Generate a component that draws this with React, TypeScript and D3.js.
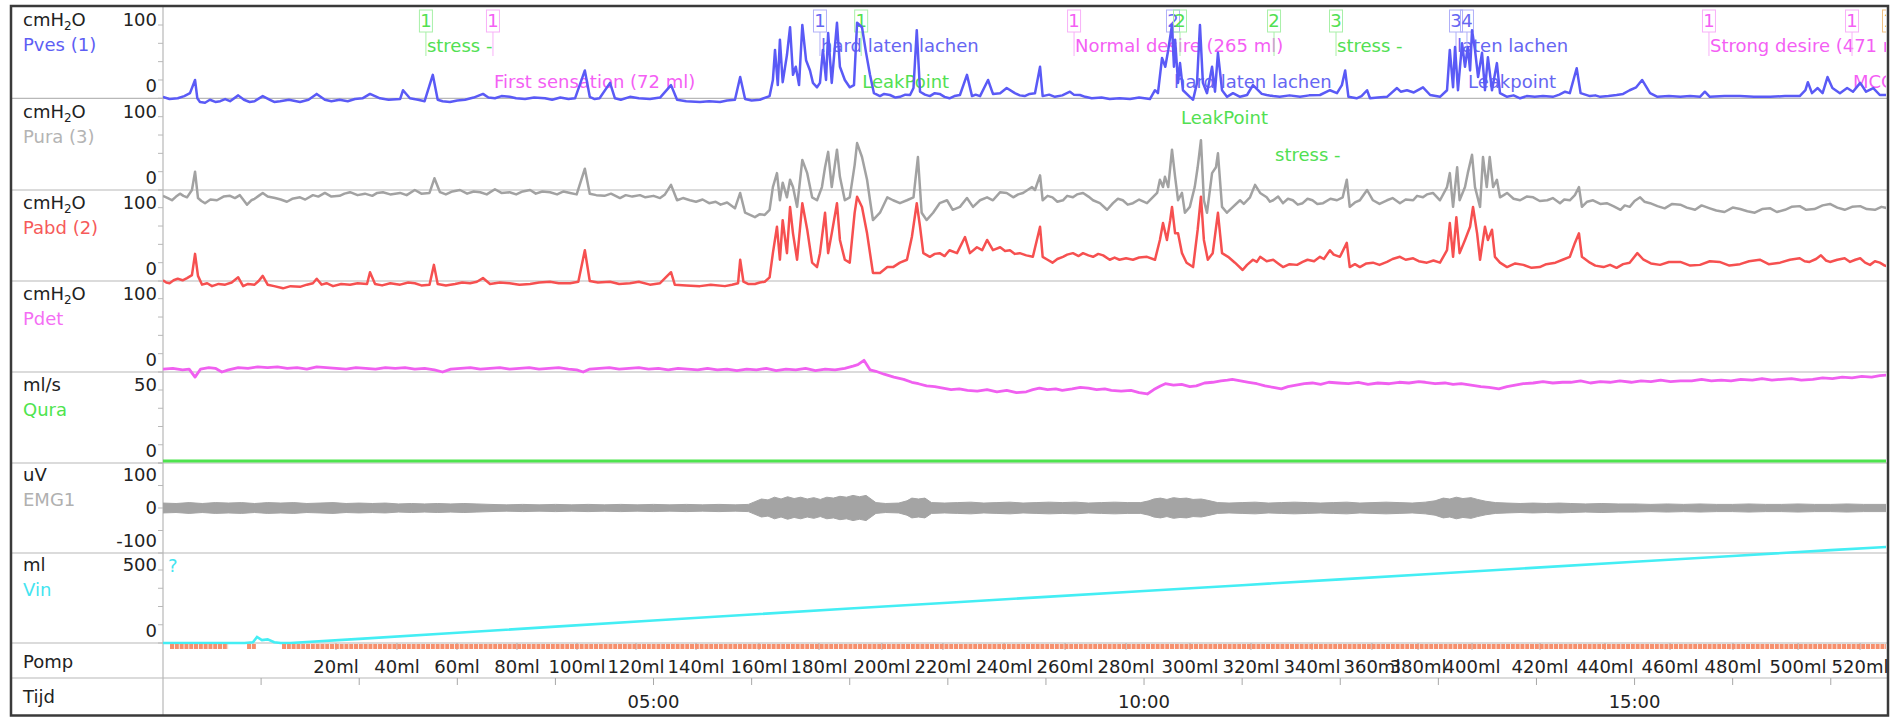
import React from 'react';
import * as d3 from 'd3';

type P = [number, number];

// time in seconds, value in channel units
const pvesData: P[] = [
  [0,2],[4,-1],[9,0],[13,3],[16.5,7],[19.6,25],[21,0],[22.6,-5],[25.7,-6],[28.7,-2],[32,-5],[35,-4],[38,-1],[41,-4],[46,4],[49.5,-2],[53,-5],[56,-4],[61,3],[65.4,-2],[68,-5],[71.6,-4],[77,-2],[83.8,-5],[89,-2],[94,6],[99,-2],[103,-4],[108,-2],[113,-4],[117.4,-1],[122,0],[126.6,6],[132.7,0],[138,-2],[145,-1],[146.8,11],[151,0],[156,-2],[160,-4],[165,32],[168,-2],[171,-4],[175.5,-5],[180,-3],[184.7,-2],[190,1],[195.7,6],[199,1],[203,0],[207,3],[212,2],[216,0],[221.4,-1],[227,1],[233.6,0],[238,-2],[243,1],[248,-1],[252,0],[258,38],[261,2],[264,-1],[267,0],[273.4,21],[276.4,0],[280,-2],[285.6,2],[291,0],[297.8,-1],[304,1],[310.7,18],[314.4,-2],[320,-4],[328.4,-5],[334,-4],[340.7,-5],[345,-3],[349.8,-2],[353,29],[356,-1],[360,-3],[365,-2],[371,3],
  [373,25],[374.3,66],[376,18],[377.3,80],[379,22],[381.6,59],[383.5,97],[385.3,32],[387,43],[389,18],[391,100],[393.3,52],[395.7,38],[397.5,21],[400,15],[401.8,21],[403.6,66],[405.5,25],[406.8,89],[409,21],[412.2,103],[414,43],[417,25],[420,15],[422.6,18],[424.5,103],[427.5,97],[430,62],[432.4,32],[434.8,7],[438.5,3],[441,6],[444.6,4.5],[448,1],[450.7,2],[454,5],[456.9,4.5],[459,14],[461,93],[463,9],[466,5],[469,3],[472,7],[475,6],[478,2],[481,0],[484,3],[487.4,4.5],[491.7,32],[494.8,3],[497,5],[499.7,3],[504.6,25],[507.6,6],[512,7],[516,14],[521,7],[524,4],[527,3],[530,6],[533.3,7],[536.4,43],[538,3],[542,5],[545.5,2],[550,4],[554.7,9],[557,5],[560.8,4.5],[564,2],[568,0],[574,1],[579,-1],[585,0],[591.4,-1],[597,1],[603.6,-1],
  [606.7,11],[608.5,7],[611,55],[613,43],[614.8,66],[617.1,100],[618.3,43],[619,80],[620.8,21],[622,48],[623.8,11],[628,2],[630,-2],[632.4,21],[634.2,100],[636,21],[638.5,7],[641.6,43],[643.4,9],[645.2,62],[647.7,11],[650.7,2],[654.4,7],[658.7,2],[663,4.5],[666.6,18],[669.7,11],[672,6],[675,4.5],[679,3],[683,2],[689,4],[695.4,2],[701,4],[707.6,4.5],[713.7,11],[718,7],[721,18],[723,38],[725,2],[730,0],[733,3],[736.4,11],[738.2,0],[743,1],[748.6,2],[754.7,14],[757,9],[760.8,11],[765,8],[770.6,15],[775,4.5],[781,2],[785.3,11],
  [787,66],[789,15],[790.2,70],[792,11],[794.5,75],[796.3,43],[798,70],[799.4,38],[800.6,93],[802.4,66],[804.3,29],[806.7,62],[808.5,11],[810.3,56],[812.8,11],[815.8,48],[817.7,7],[822,2],[826,4],[830,0],[834,3],[839,2],[844,3],[850,2],[854,5],[857.5,9],[860.4,7],[864.6,41],[867,7],[872.7,3],[876,4],[879,2],[884,3],[889,4.5],[893,6],[897,11],[901,15],[904.6,25],[909.5,7],[914,2],[921,3],[928,2],[934,3],[940,2],[943,9],[946,2],[955,3],[964.5,3],[973,2],[983,2],[992,3],[1001,3],[1004.5,11],[1006,22],[1008.5,7],[1012,14],[1015,7],[1018,29],[1021,14],[1025.6,7],[1030,14],[1033.6,9],[1038,21],[1041.6,9],[1046,14],[1050,4.5],[1055,4.5]
];

const puraData: P[] = [
  [0,-8],[3,-11],[5.5,-14],[8,-9],[10.4,-5],[12.5,-8],[14.7,-10],[17.7,0],[19.6,25],[21.4,-11],[23.5,-15],[25.7,-18],[29,-13],[33,-14],[37,-9],[41,-8],[44,-11],[47,-7],[49,-13],[51.4,-20],[54,-14],[56,-12],[58.5,-8],[61,-4],[64,-9],[68.5,-11],[72,-13],[75.8,-16],[79,-12],[83.8,-10],[87,-13],[91.7,-7],[95,-9],[99,-4],[103,-9],[108,-8],[111,-5],[114.4,-3],[119,-7],[123.5,-5],[128,-8],[131,-4],[134.5,-3],[139,-6],[145,-4],[149,-7],[154,0],[158,-5],[163,-4],[166,16],[169.4,-3],[173,-6],[177,-2],[181.6,0],[186,-5],[190,-2],[194,-3],[198,-6],[203,1],[207,-4],[212,-3],[216,-6],[220,-2],[224.5,0],[228,-5],[232,-2],[236.7,-3],[241,-6],[245,-2],[249,-4],[253,-6],[258,29],[261,-5],[265,-7],[270,-8],[274,-5],[279.5,-11],[283,-7],[287,-9],[291.7,-7],[295,-10],[300,-8],[304,-11],[307,-6],[310.7,7],[314.4,-14],[318,-11],[322.3,-14],[326,-16],[330,-13],[334,-18],[338,-16],[341,-20],[345,-17],[349.8,-25],[353,-4],[356,-31],[359,-34],[362,-37],[365,-33],[368,-34],[371,-27],
  [373,4],[375.5,23],[377.3,-14],[379,10],[381.6,-10],[383.5,14],[385.3,4],[387.8,-23],[391,41],[394,23],[397,-10],[400,-14],[403,4],[404.9,31],[406.8,52],[409,4],[412.2,55],[414,18],[417,-14],[420,-10],[423,34],[424.5,64],[427.5,45],[430.6,14],[432.4,-14],[434.2,-41],[438.5,-31],[443,-10],[446.5,-14],[450.7,-18],[455,-14],[459,-10],[461.7,45],[464,-31],[467,-41],[471,-31],[475,-18],[479.5,-14],[483,-27],[487.4,-23],[491.7,-11],[495.4,-23],[499.7,-14],[504,-10],[507.6,-14],[512,-3],[516,-4],[520,-10],[523,-6],[526,-4],[531.5,4],[533.3,0],[536.4,20],[538,-14],[541,-8],[544,-10],[547,-16],[550.4,-14],[553,-8],[556.5,-10],[559,-6],[562.7,-4],[566,-9],[568.8,-14],[573,-18],[577.4,-27],[581,-18],[584,-12],[587,-14],[590,-20],[593.2,-18],[597,-13],[601.8,-18],
  [608,-4],[609.7,14],[611.6,4],[612.8,18],[614.8,4],[617.1,55],[619,18],[620.8,-14],[623.2,-4],[625,-31],[628,-23],[631,4],[632.8,31],[634.8,68],[636.6,-14],[638.5,-31],[641.6,23],[644,31],[645.2,50],[647.7,-23],[650.7,-31],[654.4,-23],[658.7,-14],[661,-19],[664.8,-10],[667.9,7],[671,-4],[675,-10],[677,-16],[679,-14],[682,-9],[685,-18],[688,-12],[691,-14],[694,-20],[697,-18],[700,-12],[703,-14],[706,-19],[709.5,-18],[714,-12],[718,-14],[721.5,-10],[724,14],[725.8,-23],[729,-17],[732,-14],[736.4,0],[740,-14],[744,-19],[748.6,-14],[752,-11],[756.5,-18],[760,-13],[764.6,-14],[767,-8],[770.6,-10],[773,-6],[776.7,-4],[781,-14],[785.3,4],[787,23],[789,-23],[791.5,31],[793,-14],[796.3,4],[798,23],[800.6,48],[802.4,4],[805.5,-23],[807.3,45],[809.6,4],[811.4,45],[813.5,4],[815.8,14],[817.7,-10],[820,-7],[822,-4],[826,-12],[830,-14],[834,-9],[838,-10],[842,-15],[846.6,-14],[850,-11],[854.4,-18],[857,-13],[860.4,-14],[863.5,-7],[866,4],[867.8,-23],[871,-16],[874.6,-14],[879,-19],[883,-18],[887,-22],[891.4,-27],[894,-21],[897,-23],[900,-15],[903.4,-10],[906,-16],[909.5,-18],[914,-22],[918.4,-25],[923,-19],[928,-20],[932,-24],[937,-27],[941,-21],[946,-25],[950,-28],[955,-30],[960,-24],[964.5,-26],[969,-29],[973.5,-31],[978,-26],[983,-25],[987,-30],[992,-27],[996,-23],[1001,-22],[1005,-27],[1010,-26],[1015,-21],[1019.5,-19],[1024,-24],[1028.5,-27],[1033,-23],[1038,-22],[1042,-26],[1047,-27],[1051,-23],[1055,-25]
];

const pabdData: P[] = [
  [0,1],[2,-2],[4,-3],[6.5,1],[9,3],[12,1],[14.7,4],[17.7,8],[19.6,37],[21.4,7],[23.9,-5],[27,-3],[30,-7],[34,-4],[38,-5],[42,-2],[46,5],[49,-7],[52,-4],[56,-5],[58.5,0],[61,7],[64,-5],[68,-7],[73.4,-10],[78,-7],[83.8,-8],[88,-5],[91.7,-3],[94,3],[97,-5],[100,-3],[104,-7],[109,-4],[114.4,-5],[119,-3],[124.8,-4],[126.6,12],[129.7,-4],[134,-6],[139,-3],[145,-5],[150,-2],[154,-3],[158,-6],[163,-5],[165.7,22],[168,-4],[173,-6],[178.6,-4],[183,-2],[187.8,-3],[192,-1],[195.7,4],[200,-4],[206,-2],[212,-3],[218,-5],[224.5,-4],[230,-2],[236.7,-1],[242,-3],[249,-3],[254,-1],[258,42],[261,0],[266,-2],[273.4,-1],[279,-4],[285.6,-3],[291,-1],[297.8,-5],[304,-3],[310.7,12],[313,-5],[320,-6],[328.4,-7],[335,-5],[343.7,-7],[348,-5],[351.7,-3],[353,29],[355,-1],[357.8,-4],[362,-4],[365,-2],[368,-1],[371,5],
  [373,38],[375.5,74],[377.3,29],[379,83],[381.6,38],[383.5,101],[385.3,65],[387.8,29],[391,106],[394,70],[397,25],[400,19],[401.8,38],[404.9,93],[406.8,38],[409,65],[412.2,106],[414,56],[417,29],[420,25],[423,93],[424.5,115],[427.5,101],[430.6,65],[433,29],[434.2,11],[438.5,11],[443,19],[446.5,19],[450.7,25],[455,29],[458,60],[461,106],[463,74],[465,38],[469,33],[472,37],[475,38],[478,34],[481,42],[485.6,38],[490.5,60],[493.5,38],[497.8,46],[501,42],[504,56],[507.6,42],[512,46],[515,41],[518,42],[521,37],[524,38],[528,35],[532,33],[536.4,74],[538,33],[541,29],[544,25],[547,30],[550.4,33],[553,36],[556.5,38],[560,34],[562.7,38],[566,35],[568.8,33],[572,37],[575,35],[579,29],[582,32],[585,29],[589,31],[593.2,29],[597,32],[601.8,33],
  [606.7,29],[609.7,56],[611.6,79],[614,56],[616,83],[617.1,101],[619,65],[620.8,65],[623.2,38],[626,25],[630,19],[632.8,70],[634.8,115],[636.6,56],[639,29],[642,38],[645.2,93],[647.7,38],[651.4,33],[655.6,25],[660.3,15],[663,22],[666.6,29],[669,26],[671,33],[675,27],[679,29],[682,24],[685,19],[689,23],[693.6,22],[697,26],[700,29],[704,27],[707.6,33],[710,30],[713.7,42],[716,36],[719.8,33],[724,52],[725.8,19],[729,23],[732,19],[736,24],[740,25],[744,22],[748.6,26],[752,30],[756.5,33],[760,29],[764.6,31],[768,27],[773,25],[777,28],[781,25],[785.3,42],[787,79],[789,33],[791,87],[793,38],[796.3,56],[799.4,74],[801.2,101],[803.7,65],[805.5,29],[808.5,74],[810.3,56],[812.8,70],[814.6,33],[817.7,25],[822,19],[827,24],[832,22],[837,18],[842,19],[846,23],[851.6,25],[856,29],[860.4,33],[863.5,52],[866,65],[867.8,33],[872.7,25],[876,21],[881,19],[885,22],[889,18],[893,23],[897,25],[901.7,38],[905.5,29],[910,24],[915.6,22],[921,26],[928,26],[934,21],[940,22],[946,27],[952,26],[958,21],[964.5,23],[970,27],[976.6,29],[982,23],[989,25],[995,29],[1001,31],[1004,27],[1007,26],[1011,30],[1014,35],[1017,28],[1019.5,26],[1024,29],[1028.5,31],[1031.8,26],[1035,29],[1038,31],[1041,25],[1044,22],[1047,27],[1050,25],[1053,21],[1055,20]
];

const pdetData: P[] = [
  [0,4],[6,5],[12,3],[16,4],[19.6,-7],[23,4],[28,6],[32,5],[36,0],[40,3],[46,6],[52,5],[58,7],[64,6],[70,7],[76,5],[82,6],[88,4],[94,7],[100,6],[106,5],[112,4],[118,6],[124,5],[130,4],[136,6],[142,5],[148,6],[154,4],[160,5],[166,3],[171,0],[176,4],[182,5],[188,6],[194,4],[200,5],[206,6],[212,4],[218,5],[224,6],[230,4],[236,5],[242,6],[248,4],[253,3],[257,0],[261,4],[267,5],[273,6],[279,4],[285,5],[291,6],[297,4],[303,5],[309,3],[315,5],[321,4],[327,3],[333,5],[339,3],[345,4],[351,2],[357,4],[363,3],[369,5],[375,2],[381,4],[387,3],[393,5],[399,2],[405,4],[411,3],[417,5],[422,8],[425,10],[428.7,16],[432.4,3],[436,1],[441,-3],[447,-7],[453,-10],[458,-14],[462,-16],[467,-19],[472,-20],[477,-22],[482,-24],[487,-23],[492,-25],[498,-26],[504,-24],[510,-27],[516,-25],[522,-28],[528,-27],[532,-24],[536,-22],[541,-24],[546,-23],[550,-25],[556,-23],[561,-21],[566,-22],[571,-24],[576,-23],[580,-25],[586,-26],[592,-25],[597,-28],[602,-30],[606,-24],[610,-19],[613,-16],[618,-18],[623,-17],[628,-20],[632,-19],[637,-15],[642,-14],[647,-12],[651,-11],[654,-10],[659,-12],[664,-14],[669,-16],[674,-19],[679,-21],[684,-23],[688,-20],[693,-18],[698,-16],[703,-15],[708,-17],[713,-14],[719,-15],[725,-16],[731,-14],[737,-17],[743,-15],[750,-16],[756,-14],[762,-15],[768,-13],[772,-14],[778,-16],[784,-15],[789,-17],[794,-16],[800,-18],[806,-20],[811,-21],[817,-23],[822,-20],[827,-18],[832,-16],[838,-15],[844,-13],[850,-15],[856,-14],[861,-14],[867,-12],[873,-15],[879,-13],[885,-14],[891,-12],[898,-14],[904,-12],[910,-13],[916,-11],[922,-13],[928,-12],[935,-12],[941,-10],[947,-12],[953,-11],[959,-12],[965,-10],[972,-11],[978,-9],[984,-11],[990,-10],[996,-9],[1002,-11],[1009,-10],[1015,-8],[1021,-9],[1027,-7],[1033,-8],[1039,-6],[1045,-7],[1050,-5],[1055,-4]
];

const quraData: P[] = [[0,1.4],[300,1.4],[600,1.4],[900,1.4],[1055,1.4]];

// EMG envelope: [time, half amplitude uV]
const emgEnvelope: P[] = [
  [0,11],[8,10],[16,12],[24,10],[32,12],[40,11],[48,12],[56,10],[64,12],[72,11],[80,12],[88,10],[96,11],[104,12],[112,10],[120,11],[128,10],[136,11],[144,9],[152,10],[160,9],[168,10],[176,9],[184,10],[192,9],[200,8],[210,7],[220,8],[230,7],[240,8],[250,7],[260,8],[270,7],[280,8],[290,7],[300,8],[310,7],[320,8],[330,7],[340,8],[350,7],[358,8],[362,14],[366,20],[370,18],[374,24],[378,20],[382,25],[386,21],[390,24],[394,20],[398,23],[402,19],[406,24],[410,22],[414,26],[418,24],[422,28],[426,25],[430,28],[433,20],[436,12],[442,10],[450,11],[455,16],[458,22],[462,20],[466,22],[470,12],[478,11],[486,12],[494,13],[502,11],[510,12],[518,13],[526,11],[534,12],[542,13],[550,12],[558,13],[566,11],[574,12],[582,13],[590,12],[598,12],[603,16],[606,20],[610,22],[614,19],[618,23],[622,21],[626,22],[630,19],[635,20],[639,17],[645,12],[652,11],[660,12],[668,13],[676,11],[684,12],[692,13],[700,12],[708,11],[716,12],[724,13],[732,11],[740,12],[748,13],[756,12],[764,11],[772,13],[778,16],[783,22],[787,20],[791,24],[795,21],[800,23],[804,19],[809,15],[815,12],[822,11],[830,10],[838,11],[846,10],[854,11],[861,10],[870,9],[880,10],[890,9],[900,9],[910,8],[920,9],[930,8],[940,9],[950,8],[960,8],[970,9],[980,8],[990,8],[1000,9],[1010,8],[1020,8],[1030,9],[1040,8],[1055,8]
];

const vinData: P[] = [
  [0,0],[50,0],[55,5],[57.5,41],[60.5,20],[64,25],[68,5],[72,0],[78,0],[120,28],[180,70],[240,112],[300,154],[360,195],[420,236],[480,276],[540,316],[600,356],[660,396],[720,436],[780,476],[840,516],[900,556],[960,596],[1020,636],[1055,658]
];

const pumpOn: P[] = [[4.3,39.8],[51.4,56.9],[72.8,1055]];

const pompMarks: [number, string][] = [
  [105.8,'20ml'],[143.1,'40ml'],[179.8,'60ml'],[216.5,'80ml'],[253.2,'100ml'],[289.3,'120ml'],[326,'140ml'],[364.5,'160ml'],[401.2,'180ml'],[439.7,'200ml'],[477,'220ml'],[514.4,'240ml'],[551.7,'260ml'],[589,'280ml'],[628.1,'300ml'],[665.4,'320ml'],[702.7,'340ml'],[739.4,'360ml'],[767.6,'380ml'],[800.6,'400ml'],[842.2,'420ml'],[881.9,'440ml'],[921.7,'460ml'],[960.2,'480ml'],[1000,'500ml'],[1037.9,'520ml']
];

const timeLabels: [number, string][] = [[300,'05:00'],[600,'10:00'],[900,'15:00']];

type Marker = { t: number; num: string; kind: 'g' | 'm' | 'b' | 'o'; text: string; row: number };
const markers: Marker[] = [
  { t: 160.8, num: '1', kind: 'g', text: 'stress -', row: 1 },
  { t: 201.8, num: '1', kind: 'm', text: 'First sensation (72 ml)', row: 2 },
  { t: 401.8, num: '1', kind: 'b', text: 'hard laten lachen', row: 1 },
  { t: 427, num: '1', kind: 'g', text: 'LeakPoint', row: 2 },
  { t: 557.2, num: '1', kind: 'm', text: 'Normal desire (265 ml)', row: 1 },
  { t: 617.7, num: '2', kind: 'b', text: 'hard laten lachen', row: 2 },
  { t: 622, num: '2', kind: 'g', text: 'LeakPoint', row: 3 },
  { t: 679.5, num: '2', kind: 'g', text: 'stress -', row: 4 },
  { t: 717.4, num: '3', kind: 'g', text: 'stress -', row: 1 },
  { t: 790.8, num: '3', kind: 'b', text: 'laten lachen', row: 1 },
  { t: 797.5, num: '4', kind: 'b', text: 'Leakpoint', row: 2 },
  { t: 945.5, num: '1', kind: 'm', text: 'Strong desire (471 ml)', row: 1 },
  { t: 1033, num: '1', kind: 'm', text: 'MCC', row: 2 },
  { t: 1055.6, num: '1', kind: 'o', text: '', row: 1 },
];

const markerColors: Record<string, [string, string]> = {
  g: ['#52e052', '#a8f0a8'],
  m: ['#f45ff4', '#f8b0f8'],
  b: ['#6666f2', '#b0b0f8'],
  o: ['#f0a040', '#f0c080'],
};

const rowBase = [52, 88, 124, 161];

export default function App() {
  const x = d3.scaleLinear().domain([0, 1055]).range([163, 1888]);
  const yPves = d3.scaleLinear().domain([0, 100]).range([98.3, 25]);
  const yPura = d3.scaleLinear().domain([0, 100]).range([190, 116.7]);
  const yPabd = d3.scaleLinear().domain([0, 100]).range([281, 207.7]);
  const yPdet = d3.scaleLinear().domain([0, 100]).range([372, 298.7]);
  const yQura = d3.scaleLinear().domain([0, 50]).range([463, 390]);
  const yEmg = d3.scaleLinear().domain([-100, 100]).range([553, 463]);
  const yVin = d3.scaleLinear().domain([0, 500]).range([643, 570]);

  const mk = (ys: d3.ScaleLinear<number, number>) =>
    d3.line<P>().x(d => x(d[0])).y(d => ys(d[1]));

  const emgArea = d3.area<P>().x(d => x(d[0])).y0(d => yEmg(-d[1])).y1(d => yEmg(d[1]));

  const panels = [
    { top: 6, bottom: 98.3, unit: 'cmH2O', name: 'Pves (1)', color: '#5e5ef4', ticks: [0, 25, 50, 75, 100], ys: yPves, labels: [['100', 'top'], ['0', 'bottom']] },
    { top: 98.3, bottom: 190, unit: 'cmH2O', name: 'Pura (3)', color: '#b4b4b4', ticks: [0, 25, 50, 75, 100], ys: yPura, labels: [['100', 'top'], ['0', 'bottom']] },
    { top: 190, bottom: 281, unit: 'cmH2O', name: 'Pabd (2)', color: '#f65a5a', ticks: [0, 25, 50, 75, 100], ys: yPabd, labels: [['100', 'top'], ['0', 'bottom']] },
    { top: 281, bottom: 372, unit: 'cmH2O', name: 'Pdet', color: '#f46ef4', ticks: [0, 25, 50, 75, 100], ys: yPdet, labels: [['100', 'top'], ['0', 'bottom']] },
    { top: 372, bottom: 463, unit: 'ml/s', name: 'Qura', color: '#4ee44e', ticks: [0, 12.5, 25, 37.5, 50], ys: yQura, labels: [['50', 'top'], ['0', 'bottom']] },
    { top: 463, bottom: 553, unit: 'uV', name: 'EMG1', color: '#b0b0b0', ticks: [-100, -50, 0, 50, 100], ys: yEmg, labels: [['100', 'top'], ['0', 'mid'], ['-100', 'bottom']] },
    { top: 553, bottom: 643, unit: 'ml', name: 'Vin', color: '#44e4f0', ticks: [0, 125, 250, 375, 500], ys: yVin, labels: [['500', 'top'], ['0', 'bottom']] },
  ];
  const sepY = [98.3, 190, 281, 372, 463, 553, 643, 678];

  return (
    <svg width={1895} height={717} style={{ position: 'absolute', left: 0, top: 0, background: '#fff' }}
      fontFamily="'DejaVu Sans', Verdana, sans-serif" fontSize={18}>
      <defs>
        <clipPath id="plot"><rect x={163} y={6} width={1723} height={646} /></clipPath>
      </defs>
      <rect x={0} y={0} width={1895} height={717} fill="#fff" />
      {sepY.map((y, i) => <line key={i} x1={11} x2={1888} y1={y} y2={y} stroke="#b8b8b8" strokeWidth={1.2} />)}
      <line x1={163} x2={163} y1={6} y2={716} stroke="#b8b8b8" strokeWidth={1.2} />
      {panels.map((p, i) => (
        <g key={i}>
          <text x={23} y={p.bottom - 72} fill="#222">
            {p.unit === 'cmH2O' ? (<>cmH<tspan fontSize={12} dy={4}>2</tspan><tspan dy={-4}>O</tspan></>) : p.unit}
          </text>
          <text x={23} y={p.bottom - 47} fill={p.color}>{p.name}</text>
          {p.labels.map(([lab, pos], j) => (
            <text key={j} x={157} textAnchor="end" fill="#222"
              y={pos === 'top' ? p.bottom - 72 : pos === 'bottom' ? p.bottom - 6 : p.ys(0) + 6}>{lab}</text>
          ))}
          {p.ticks.map((tv, j) => (
            <line key={j} x1={158} x2={163} y1={p.ys(tv)} y2={p.ys(tv)} stroke="#b8b8b8" strokeWidth={1} />
          ))}
        </g>
      ))}
      <text x={23} y={668} fill="#222">Pomp</text>
      <text x={23} y={703} fill="#222">Tijd</text>
      <text x={168} y={572} fill="#44e4f0">?</text>
      {pompMarks.map(([t, lab], i) => (
        <g key={i}>
          <line x1={x(t)} x2={x(t)} y1={643} y2={650} stroke="#b0b0b0" />
          <text x={x(t)} y={673} textAnchor="middle" fill="#222">{lab}</text>
        </g>
      ))}
      {d3.range(60, 1055, 60).map(t => (
        <line key={t} x1={x(t)} x2={x(t)} y1={678} y2={685} stroke="#a8a8a8" />
      ))}
      {timeLabels.map(([t, lab]) => (
        <text key={lab} x={x(t)} y={708} textAnchor="middle" fill="#222">{lab}</text>
      ))}
      <g clipPath="url(#plot)">
        {markers.map((m, i) => {
          const lx = x(m.t);
          const [c, lc] = markerColors[m.kind];
          return (
            <g key={i}>
              <line x1={lx} x2={lx} y1={32} y2={56} stroke={lc} strokeWidth={1} />
              <rect x={lx - 6.5} y={10} width={13} height={22} fill="none" stroke={lc} strokeWidth={1} />
              <text x={lx} y={27} textAnchor="middle" fill={c}>{m.num}</text>
              {m.text && <text x={lx + 1} y={rowBase[m.row - 1]} fill={c}>{m.text}</text>}
            </g>
          );
        })}
        <path d={mk(yPura)(puraData)!} fill="none" stroke="#a2a2a2" strokeWidth={2.5} strokeLinejoin="round" />
        <path d={mk(yPabd)(pabdData)!} fill="none" stroke="#f65050" strokeWidth={2.5} strokeLinejoin="round" />
        <path d={mk(yPves)(pvesData)!} fill="none" stroke="#5a5af6" strokeWidth={2.5} strokeLinejoin="round" />
        <path d={mk(yPdet)(pdetData)!} fill="none" stroke="#f060f0" strokeWidth={2.8} strokeLinejoin="round" />
        <path d={mk(yQura)(quraData)!} fill="none" stroke="#4ee44e" strokeWidth={3} />
        <path d={emgArea(emgEnvelope)!} fill="#a4a4a4" stroke="#a4a4a4" strokeWidth={1} />
        <path d={mk(yVin)(vinData)!} fill="none" stroke="#44eef4" strokeWidth={2.6} />
        {pumpOn.map(([a, b], i) => (
          <line key={i} x1={x(a)} x2={x(b)} y1={646.5} y2={646.5} stroke="#f6906e" strokeWidth={5} strokeDasharray="4 0.8" />
        ))}
      </g>
      <rect x={11} y={6} width={1877} height={709.5} fill="none" stroke="#3a3a3a" strokeWidth={2.5} />
    </svg>
  );
}
